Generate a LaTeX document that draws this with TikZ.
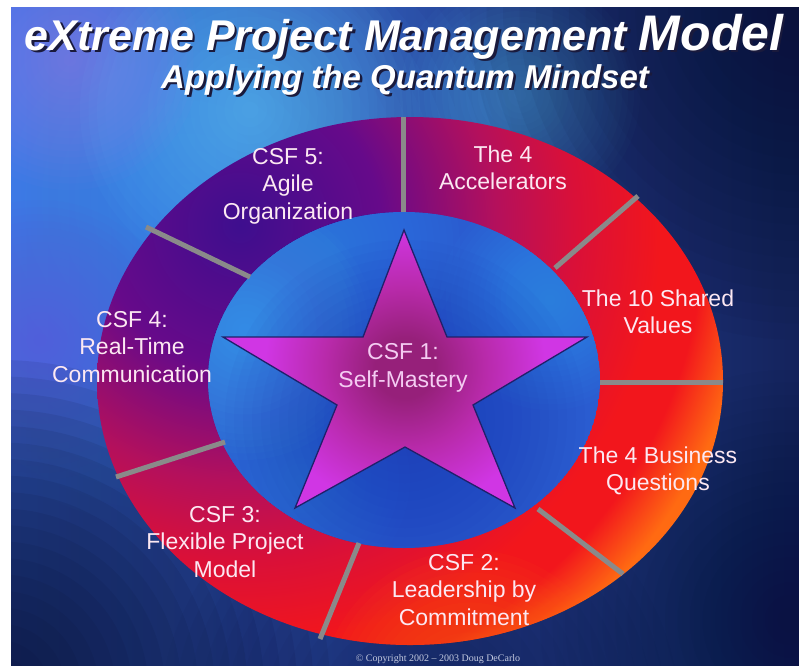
\documentclass[tikz,border=0pt]{standalone}
\usepackage{fontspec}
\setmainfont{Liberation Sans}
\newfontfamily\copyfont{Liberation Serif}

% palette
\definecolor{bgL}{HTML}{3D6EE6}
\definecolor{bgM}{HTML}{2748A8}
\definecolor{bgR}{HTML}{14235C}
\definecolor{skyblue}{HTML}{4EA2F8}
\definecolor{skycyan}{HTML}{6ED6FF}
\definecolor{skylav}{HTML}{A482F2}
\definecolor{skypurple}{HTML}{6E52DA}
\definecolor{deepnavy}{HTML}{0A1234}
\definecolor{ringA}{HTML}{3E0E8E}
\definecolor{ringB}{HTML}{660A8A}
\definecolor{ringC}{HTML}{B4105C}
\definecolor{ringD}{HTML}{DA1038}
\definecolor{ringE}{HTML}{F2161C}
\definecolor{ringF}{HTML}{FF6A12}
\definecolor{coreblue}{HTML}{2A5CD0}
\definecolor{corelight}{HTML}{46AEF8}
\definecolor{coremid}{HTML}{3A8EF0}
\definecolor{coredark}{HTML}{1E34B0}
\definecolor{starA}{HTML}{96207A}
\definecolor{starB}{HTML}{B82AAA}
\definecolor{starC}{HTML}{D036E4}
\definecolor{starline}{HTML}{20206A}
\definecolor{divider}{HTML}{8A8A8A}
\definecolor{labelpink}{HTML}{FCE8F2}
\definecolor{starlabel}{HTML}{F4CCF2}
\definecolor{titleshadow}{HTML}{1A1A3C}
\definecolor{copygray}{HTML}{C4CAE0}

% ring colouring, radii in bp around the upper-left focus:
% purple at the upper left, red round the right, orange only on the outer rim
\pgfdeclareradialshading{ringglow}{\pgfpointorigin}{%
  color(0bp)=(ringA); color(140bp)=(ringB); color(255bp)=(ringC);
  color(335bp)=(ringD); color(420bp)=(ringE); color(462bp)=(ringE);
  color(515bp)=(ringF); color(560bp)=(ringF)}

% star: dark magenta core, bright violet tips
\pgfdeclareradialshading{starglow}{\pgfpointorigin}{%
  color(0bp)=(starA); color(30bp)=(starA); color(80bp)=(starB);
  color(140bp)=(starC); color(200bp)=(starC)}

% soft blob made of stacked translucent discs:
% colour, x, y, radius, opacity of each disc
\newcommand\glowspot[5]{%
  \foreach \gi in {1,...,20}{\fill[#1, opacity=#5] (#2,#3) circle ({#4*\gi/20});}}

\tikzset{
  seglabel/.style={text=labelpink, align=center, inner sep=0pt,
    font=\fontsize{23}{27.5}\selectfont},
  centrelabel/.style={seglabel, text=starlabel},
  divline/.style={draw=divider, line width=5pt},
  titletext/.style={inner sep=0pt, anchor=base,
    font=\bfseries\itshape\fontsize{43}{48}\selectfont},
  subtitletext/.style={inner sep=0pt, anchor=base,
    font=\bfseries\itshape\fontsize{33}{38}\selectfont}
}

\begin{document}
\begin{tikzpicture}[x=1pt,y=-1pt]
\useasboundingbox (0,0) rectangle (799,665);
\fill[white] (0,0) rectangle (799,665);

\begin{scope}
\clip (11,7) rectangle (799,665);

% ---- space backdrop ----
\shade[left color=bgL, middle color=bgM, right color=bgR] (11,7) rectangle (799,665);
\glowspot{skyblue}{190}{200}{330}{.04}
\glowspot{skycyan}{250}{110}{170}{.035}
\glowspot{skycyan}{520}{95}{120}{.028}
\glowspot{skylav}{70}{60}{130}{.035}
\glowspot{skypurple}{40}{340}{140}{.03}
\glowspot{deepnavy}{800}{10}{330}{.055}
\glowspot{deepnavy}{0}{690}{330}{.09}
\glowspot{deepnavy}{790}{620}{250}{.035}
\glowspot{deepnavy}{420}{720}{260}{.035}

% ---- outer ring ----
\begin{scope}
  \clip (410,381) ellipse [x radius=313, y radius=264];
  \node[inner sep=0pt] (ringshade) at (240,225) {\pgfuseshading{ringglow}};
  % warm rim along the bottom
  \glowspot{ringF}{470}{700}{150}{.05}
\end{scope}

% ---- inner core ----
\begin{scope}
  \clip (404,380) ellipse [x radius=196, y radius=168];
  \fill[coreblue] (404,380) ellipse [x radius=196, y radius=168];
  \glowspot{corelight}{245}{330}{130}{.05}
  \glowspot{coremid}{330}{245}{130}{.045}
  \glowspot{corelight}{550}{300}{110}{.035}
  \glowspot{coremid}{300}{480}{110}{.035}
  \glowspot{coredark}{405}{420}{180}{.045}
\end{scope}

% ---- segment dividers ----
\coordinate (d1a) at (403,212);  \coordinate (d1b) at (403,117);
\coordinate (d2a) at (555,268);  \coordinate (d2b) at (638,196);
\coordinate (d3a) at (600,382);  \coordinate (d3b) at (723,382);
\coordinate (d4a) at (538,509);  \coordinate (d4b) at (623,574);
\coordinate (d5a) at (359,543);  \coordinate (d5b) at (320,639);
\coordinate (d6a) at (225,442);  \coordinate (d6b) at (116,477);
\coordinate (d7a) at (250,277);  \coordinate (d7b) at (146,227);
\foreach \k in {1,...,7} \draw[divline] (d\k a) -- (d\k b);

% ---- central star ----
\coordinate (s1) at (404,230);
\coordinate (s2) at (447,337);
\coordinate (s3) at (587,337);
\coordinate (s4) at (473,405);
\coordinate (s5) at (515,508);
\coordinate (s6) at (405,447);
\coordinate (s7) at (295,508);
\coordinate (s8) at (337,405);
\coordinate (s9) at (223,337);
\coordinate (s10) at (363,337);
\begin{scope}
  \clip (s1) -- (s2) -- (s3) -- (s4) -- (s5) -- (s6) -- (s7) -- (s8) -- (s9) -- (s10) -- cycle;
  \node[inner sep=0pt] (starshade) at (405,368) {\pgfuseshading{starglow}};
\end{scope}
\draw[starline, line width=1.3pt, line join=miter]
  (s1) -- (s2) -- (s3) -- (s4) -- (s5) -- (s6) -- (s7) -- (s8) -- (s9) -- (s10) -- cycle;

% ---- labels ----
\node[centrelabel] (csf1) at (403,368) {CSF 1:\\Self-Mastery};
\node[seglabel] (acc) at (503,168) {The 4\\Accelerators};
\node[seglabel] (shared) at (658,312) {The 10 Shared\\Values};
\node[seglabel] (business) at (658,471) {The 4 Business\\Questions};
\node[seglabel] (csf2) at (464,590) {CSF 2:\\Leadership by\\Commitment};
\node[seglabel] (csf3) at (225,542) {CSF 3:\\Flexible Project\\Model};
\node[seglabel] (csf4) at (132,347) {CSF 4:\\Real-Time\\Communication};
\node[seglabel] (csf5) at (288,186) {CSF 5:\\Agile\\Organization};

% ---- headline ----
\node[titletext, text=titleshadow] (titleshade) at (406.5,52.5)
  {eXtreme Project Management {\fontsize{50}{54}\selectfont Model}};
\node[titletext, text=white] (title) at (404,50)
  {eXtreme Project Management {\fontsize{50}{54}\selectfont Model}};
\node[subtitletext, text=titleshadow] (subshade) at (407.5,90.5)
  {Applying the Quantum Mindset};
\node[subtitletext, text=white] (subtitle) at (405,88)
  {Applying the Quantum Mindset};

% ---- footer ----
\node[inner sep=0pt, anchor=base, text=copygray,
  font=\copyfont\fontsize{10}{12}\selectfont] (copyright) at (438,661)
  {© Copyright 2002 – 2003 Doug DeCarlo};
\end{scope}
\end{tikzpicture}
\end{document}
